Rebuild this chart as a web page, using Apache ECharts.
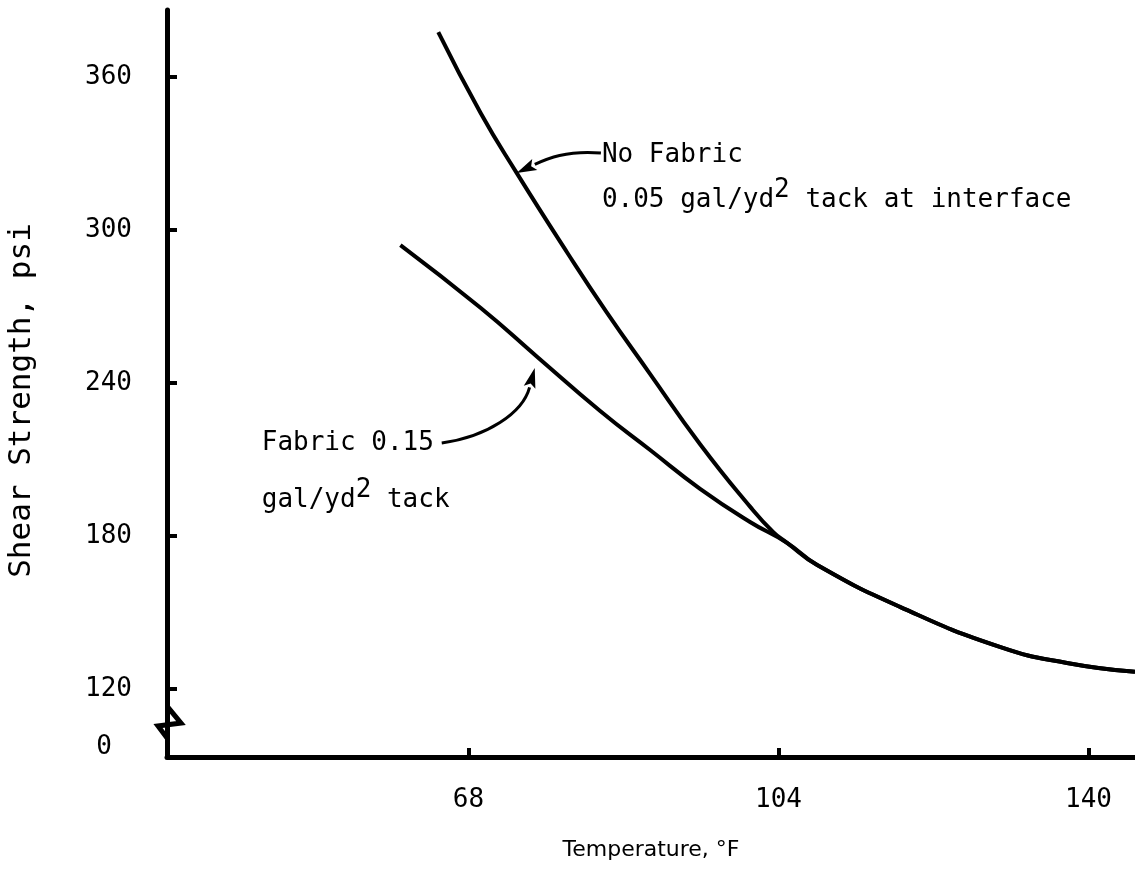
<!DOCTYPE html>
<html>
<head>
<meta charset="utf-8">
<script src="https://cdn.jsdelivr.net/npm/echarts@6/dist/echarts.min.js"></script>
<style>
  html, body { margin: 0; padding: 0; background: #fff; }
  #chart { width: 1135px; height: 870px; }
</style>
</head>
<body>
<div id="chart"></div>
<script>
// values
var noFabricTemp  = [64.5, 69.4, 73.6, 79.5, 84.0, 89.0, 94.9, 100.7, 103.4, 105.0, 108.5, 118.1, 129.7, 137.5, 145.4];
var noFabricShear = [377.6, 346.0, 322.4, 291.0, 268.0, 244.0, 216.0, 191.5, 181.5, 177.3, 168.6, 152.2, 136.5, 130.2, 126.7];
var fabricTemp    = [60.1, 69.4, 76.0, 83.3, 89.1, 94.9, 100.7, 105.0, 108.5, 118.1, 129.7, 137.5, 145.4];
var fabricShear   = [294.1, 269.5, 250.2, 229.0, 213.7, 198.5, 185.5, 177.3, 168.6, 152.2, 136.5, 130.2, 126.7];

var xTicks = [68, 104, 140];
var yTicks = [120, 180, 240, 300, 360];
var zeroLabelAt = 97;   // where the "0" sits below the axis break

function pairs(xs, ys) {
    var out = [];
    for (var i = 0; i < xs.length; i++) out.push([xs[i], ys[i]]);
    return out;
}

var font = 'DejaVu Sans Mono';
var myChart = echarts.init(document.getElementById('chart'));

var option = {
    animation: false,
    grid: { left: 167, right: 0, top: 10, bottom: 113, outerBoundsMode: 'none', containLabel: false },
    xAxis: {
        type: 'value',
        min: 33,
        max: 145.4,
        name: 'Temperature, °F',
        nameLocation: 'middle',
        nameGap: 82,
        nameTextStyle: { fontFamily: 'DejaVu Sans', fontSize: 22, color: '#000' },
        splitLine: { show: false },
        axisLine: { lineStyle: { color: '#000', width: 5 } },
        axisTick: { inside: true, length: 9, customValues: xTicks, lineStyle: { color: '#000', width: 4 } },
        axisLabel: { customValues: xTicks, margin: 30, fontFamily: font, fontSize: 26, color: '#000' }
    },
    yAxis: {
        type: 'value',
        min: 93.3,
        max: 386.3,
        name: 'Shear Strength, psi',
        nameLocation: 'middle',
        nameGap: 130,
        nameTextStyle: { fontFamily: font, fontSize: 31, color: '#000', padding: [0, 34, 0, 0] },
        splitLine: { show: false },
        axisLine: { lineStyle: { color: '#000', width: 5 } },
        axisTick: { inside: true, length: 10, customValues: yTicks, lineStyle: { color: '#000', width: 4 } },
        axisLabel: {
            customValues: [zeroLabelAt].concat(yTicks),
            margin: 35,
            fontFamily: font, fontSize: 26, color: '#000',
            formatter: function (v) { return v < 120 ? '{z|0}' : String(v); },
            rich: { z: { fontFamily: font, fontSize: 26, color: '#000', padding: [0, 20, 0, 0] } }
        }
    },
    series: [
        {
            name: 'No Fabric',
            type: 'line',
            smooth: 0.5,
            showSymbol: false,
            lineStyle: { color: '#000', width: 4 },
            data: pairs(noFabricTemp, noFabricShear)
        },
        {
            name: 'Fabric',
            type: 'line',
            smooth: 0.5,
            showSymbol: false,
            lineStyle: { color: '#000', width: 4 },
            data: pairs(fabricTemp, fabricShear)
        }
    ]
};
myChart.setOption(option);

// annotations: axis break, arrows and notes
function px(x, y) { return myChart.convertToPixel({ gridIndex: 0 }, [x, y]); }

function arrow(p0, c1, c2, tip) {
    var dx = tip[0] - c2[0], dy = tip[1] - c2[1];
    var len = Math.sqrt(dx * dx + dy * dy);
    var ux = dx / len, uy = dy / len;
    var bx = tip[0] - ux * 20, by = tip[1] - uy * 20;
    return [
        {
            type: 'bezierCurve',
            shape: { x1: p0[0], y1: p0[1], cpx1: c1[0], cpy1: c1[1], cpx2: c2[0], cpy2: c2[1], x2: bx, y2: by },
            style: { stroke: '#000', lineWidth: 3, fill: null }
        },
        {
            type: 'polygon',
            shape: { points: [tip, [bx - uy * 6, by + ux * 6], [bx + ux * 4, by + uy * 4], [bx + uy * 6, by - ux * 6]] },
            style: { fill: '#000' }
        }
    ];
}

var axisX = px(33, 120)[0];
var breakTop = px(33, 112.5)[1];
var breakBot = px(33, 101)[1];

var tipA = px(73.6, 322.4);
var tipB = px(75.7, 245.9);
var noteA = px(83.5, 329.4);
var noteB = px(44.0, 216.5);

var sup = {
    t: { fontFamily: font, fontSize: 26, color: '#000', verticalAlign: 'bottom', lineHeight: 36 },
    s: { fontFamily: font, fontSize: 26, color: '#000', verticalAlign: 'top', lineHeight: 36, padding: [0, 0, 9, 0] }
};

var graphics = [
    { type: 'rect', shape: { x: axisX - 6, y: breakTop, width: 12, height: breakBot - breakTop }, style: { fill: '#fff' } },
    {
        type: 'polyline',
        shape: { points: [[axisX, breakTop - 2], [axisX + 14, breakTop + 15], [axisX - 9, breakTop + 18], [axisX + 1, breakBot + 2]] },
        style: { stroke: '#000', lineWidth: 5, fill: null }
    },
    { type: 'text', x: noteA[0], y: noteA[1], style: { text: 'No Fabric', font: '26px ' + font, fill: '#000', verticalAlign: 'middle' } },
    {
        type: 'text', x: noteA[0], y: noteA[1] + 40,
        style: { text: '{t|0.05 gal/yd}{s|2}{t| tack at interface}', rich: sup, verticalAlign: 'middle' }
    },
    { type: 'text', x: noteB[0], y: noteB[1], style: { text: 'Fabric 0.15', font: '26px ' + font, fill: '#000', verticalAlign: 'middle' } },
    {
        type: 'text', x: noteB[0], y: noteB[1] + 52,
        style: { text: '{t|gal/yd}{s|2}{t| tack}', rich: sup, verticalAlign: 'middle' }
    }
];
graphics = graphics.concat(arrow(
    [noteA[0] - 1, noteA[1] - 2], [noteA[0] - 35, noteA[1] - 5], [tipA[0] + 30, tipA[1] - 14], tipA));
graphics = graphics.concat(arrow(
    [noteB[0] + 180, noteB[1]], [noteB[0] + 225, noteB[1] - 6], [tipB[0] - 12, tipB[1] + 45], tipB));

myChart.setOption({ graphic: graphics });

window.addEventListener('resize', function () { myChart.resize(); });
</script>
</body>
</html>
